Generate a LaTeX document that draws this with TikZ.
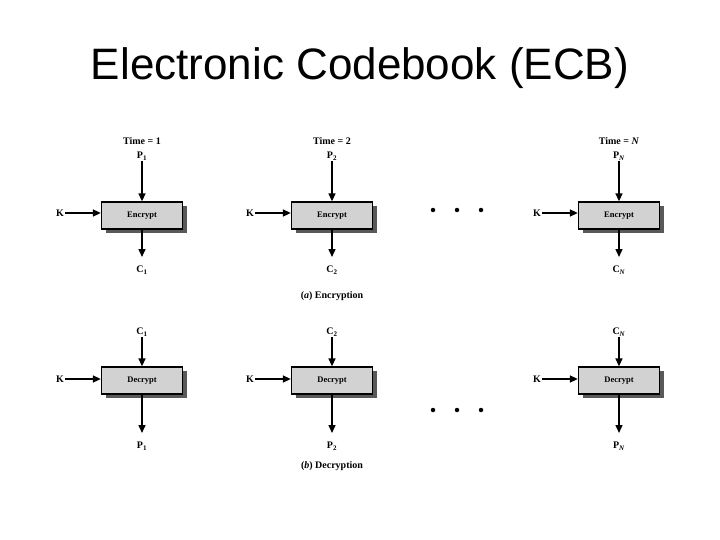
\documentclass[tikz,border=0pt]{standalone}
\usepackage{fontspec}
\setmainfont{Liberation Serif}
\newfontfamily\titlefont{Liberation Sans}
\usetikzlibrary{arrows.meta}
\begin{document}
\begin{tikzpicture}[x=1pt,y=-1pt,
  blk/.style={draw=black,line width=1.3pt,fill=gray!35,minimum width=81pt,minimum height=27pt,
    inner sep=0pt,font=\bfseries\fontsize{8.5}{9}\selectfont},
  lbl/.style={font=\bfseries\fontsize{10}{11}\selectfont,inner sep=1pt},
  arr/.style={-{Triangle[length=8pt,width=7pt]},line width=1.5pt},
  dot/.style={circle,fill=black,inner sep=0pt,minimum size=4.5pt}]
\useasboundingbox (0,0) rectangle (720,540);
\node[font=\titlefont\fontsize{44}{48}\selectfont] (title) at (360,68) {Electronic Codebook (ECB)};
% columns
\foreach \x/\i/\s in {142/1/1,332/2/2,619/3/{\textit{N}}}{
  % encryption row
  \fill[gray!70!black] (\x-36.5,219.5) rectangle (\x+44.5,233);
  \fill[gray!70!black] (\x+40.5,206) rectangle (\x+44.5,233);
  \node[blk] (e\i) at (\x,215.5) {Encrypt};
  \node[lbl] (t\i) at (\x,141) {Time = \s};
  \node[lbl] (p\i) at (\x,156) {P\textsubscript{\s}};
  \node[lbl] (c\i) at (\x,270) {C\textsubscript{\s}};
  \node[lbl] (k\i) at (\x-82,213) {K};
  \coordinate (co\i) at (\x,257);
  \draw[arr] (p\i) -- (e\i);
  \draw[arr] (e\i) -- (co\i);
  \draw[arr] (k\i) -- (e\i.west |- k\i);
  % decryption row
  \fill[gray!70!black] (\x-36.5,384.5) rectangle (\x+44.5,398);
  \fill[gray!70!black] (\x+40.5,371) rectangle (\x+44.5,398);
  \node[blk] (d\i) at (\x,380.5) {Decrypt};
  \node[lbl] (dc\i) at (\x,332) {C\textsubscript{\s}};
  \node[lbl] (dp\i) at (\x,446) {P\textsubscript{\s}};
  \node[lbl] (dk\i) at (\x-82,379) {K};
  \coordinate (dpo\i) at (\x,433);
  \draw[arr] (dc\i) -- (d\i);
  \draw[arr] (d\i) -- (dpo\i);
  \draw[arr] (dk\i) -- (d\i.west |- dk\i);
}
\foreach \x/\n in {433/1,457/2,481/3}{
  \node[dot] (ea\n) at (\x,210) {};
  \node[dot] (da\n) at (\x,410) {};
}
\node[lbl] (capa) at (332,296) {(\textit{a}) Encryption};
\node[lbl] (capb) at (332,466) {(\textit{b}) Decryption};
\end{tikzpicture}
\end{document}
